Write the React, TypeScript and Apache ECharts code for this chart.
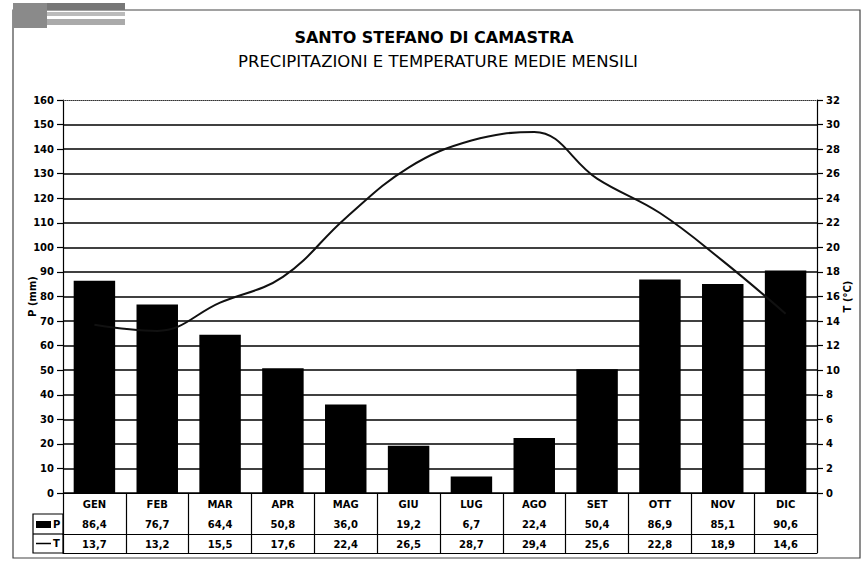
import React, { useEffect, useRef } from "react";
import * as echarts from "echarts";

const months = ["GEN", "FEB", "MAR", "APR", "MAG", "GIU", "LUG", "AGO", "SET", "OTT", "NOV", "DIC"];
const precip = [86.4, 76.7, 64.4, 50.8, 36.0, 19.2, 6.7, 22.4, 50.4, 86.9, 85.1, 90.6];
const temp = [13.7, 13.2, 15.5, 17.6, 22.4, 26.5, 28.7, 29.4, 25.6, 22.8, 18.9, 14.6];

const fmt = (v: number) => v.toFixed(1).replace(".", ",");
const FONT = "DejaVu Sans";

export default function App() {
  const ref = useRef<HTMLDivElement>(null);
  useEffect(() => {
    if (!ref.current) return;
    const chart = echarts.init(ref.current, null, { renderer: "svg" });
    const L = 63, R = 817, T = 100, B = 493;
    const row1 = 21, row2 = 41, row3 = 60;
    const lbl = { fontFamily: FONT, fontWeight: "bold" as const, fontSize: 10, color: "#000" };
    const blackLine = { color: "#000", width: 1.2 };
    chart.setOption({
      animation: false,
      backgroundColor: "#fff",
      grid: { left: L, right: 866 - R, top: T, bottom: 561 - B, containLabel: false, outerBoundsMode: "none" },
      xAxis: [
        {
          type: "category", data: months, position: "bottom", offset: 0,
          axisLine: { show: true, lineStyle: blackLine },
          axisTick: { show: true, length: row3, interval: 0, lineStyle: blackLine },
          axisLabel: { ...lbl, margin: 6, interval: 0 },
          splitLine: { show: false },
        },
        {
          type: "category", data: precip.map(fmt), position: "bottom", offset: row1,
          axisLine: { show: true, lineStyle: blackLine },
          axisTick: { show: false },
          axisLabel: { ...lbl, margin: 5, interval: 0 },
        },
        {
          type: "category", data: temp.map(fmt), position: "bottom", offset: row2,
          axisLine: { show: true, lineStyle: blackLine },
          axisTick: { show: false },
          axisLabel: { ...lbl, margin: 5, interval: 0 },
        },
        {
          type: "category", data: months, position: "bottom", offset: row3,
          axisLine: { show: true, lineStyle: blackLine },
          axisTick: { show: false },
          axisLabel: { show: false },
        },
        {
          type: "category", data: months, position: "top",
          axisLine: { show: true, lineStyle: { color: "#333", width: 1, type: "dotted" } },
          axisTick: { show: false },
          axisLabel: { show: false },
        },
      ],
      yAxis: [
        {
          type: "value", min: 0, max: 160, interval: 10, position: "left",
          name: "P (mm)", nameLocation: "middle", nameGap: 26, nameRotate: 90,
          nameMoveOverlap: false,
          nameTextStyle: { ...lbl, fontSize: 10 },
          axisLine: { show: true, lineStyle: blackLine },
          axisTick: { show: true, length: 6, lineStyle: blackLine },
          axisLabel: { ...lbl, margin: 9 },
          splitLine: { show: true, showMaxLine: false, lineStyle: { color: "#000", width: 1.6 } },
        },
        {
          type: "value", min: 0, max: 32, interval: 2, position: "right",
          name: "T (°C)", nameLocation: "middle", nameGap: 25, nameRotate: 90,
          nameMoveOverlap: false,
          nameTextStyle: { ...lbl, fontSize: 10 },
          axisLine: { show: true, lineStyle: blackLine },
          axisTick: { show: true, length: 6, lineStyle: blackLine },
          axisLabel: { ...lbl, margin: 9 },
          splitLine: { show: false },
        },
      ],
      series: [
        {
          name: "P", type: "bar", data: precip, xAxisIndex: 0, yAxisIndex: 0,
          barWidth: "66%", itemStyle: { color: "#000" },
        },
        {
          name: "T", type: "line", data: temp, xAxisIndex: 0, yAxisIndex: 1,
          smooth: 0.4, symbol: "none", lineStyle: { color: "#111", width: 2 }, z: 5,
        },
      ],
      graphic: [
        { type: "rect", shape: { x: 13, y: 10, width: 847, height: 548 }, style: { fill: "none", stroke: "#444", lineWidth: 1.2 }, silent: true },
        // logo
        { type: "rect", shape: { x: 13, y: 3, width: 34, height: 25 }, style: { fill: "#8a8a8a" } },
        { type: "rect", shape: { x: 47, y: 3, width: 78, height: 7 }, style: { fill: "#777" } },
        { type: "rect", shape: { x: 47, y: 12, width: 78, height: 4 }, style: { fill: "#bbb" } },
        { type: "rect", shape: { x: 47, y: 19, width: 78, height: 6 }, style: { fill: "#aaa" } },
        // titles
        { type: "text", x: 434, y: 37, style: { text: "SANTO STEFANO DI CAMASTRA", font: `bold 16px "${FONT}"`, fill: "#000", textAlign: "center", textVerticalAlign: "middle" } },
        { type: "text", x: 438, y: 61, style: { text: "PRECIPITAZIONI E TEMPERATURE MEDIE MENSILI", font: `16.5px "${FONT}"`, fill: "#000", textAlign: "center", textVerticalAlign: "middle" } },
        // legend column of the table
        { type: "rect", shape: { x: 33, y: B + row1, width: L - 33, height: row3 - row1 }, style: { fill: "none", stroke: "#000", lineWidth: 1.2 } },
        { type: "line", shape: { x1: 33, y1: B + row2, x2: L, y2: B + row2 }, style: { stroke: "#000", lineWidth: 1.2 } },
        { type: "rect", shape: { x: 36, y: B + row1 + 7, width: 15, height: 7 }, style: { fill: "#000" } },
        { type: "text", x: 53, y: B + (row1 + row2) / 2, style: { text: "P", font: `bold 10px "${FONT}"`, fill: "#000", textVerticalAlign: "middle" } },
        { type: "line", shape: { x1: 36, y1: B + (row2 + row3) / 2, x2: 51, y2: B + (row2 + row3) / 2 }, style: { stroke: "#000", lineWidth: 1.5 } },
        { type: "text", x: 53, y: B + (row2 + row3) / 2, style: { text: "T", font: `bold 10px "${FONT}"`, fill: "#000", textVerticalAlign: "middle" } },
      ],
    });
    return () => chart.dispose();
  }, []);
  return <div ref={ref} style={{ width: 866, height: 561, position: "absolute", left: 0, top: 0 }} />;
}
